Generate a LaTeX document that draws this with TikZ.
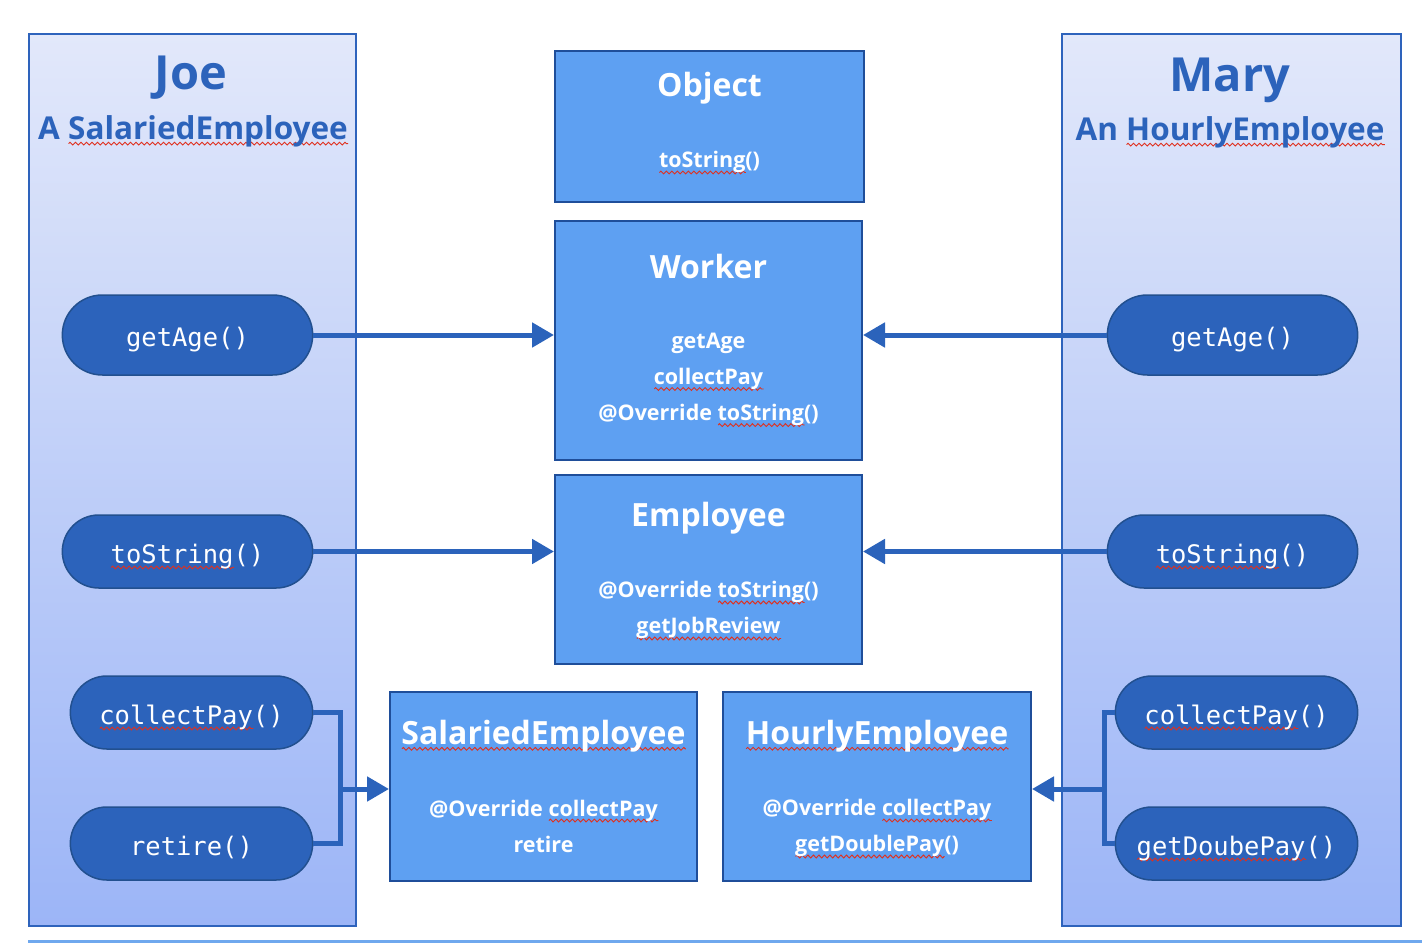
\documentclass[tikz,border=0pt]{standalone}
\usepackage{fontspec}
\setmainfont{Open Sans}
\setmonofont{DejaVu Sans Mono}
\usepackage{xcolor}
\usepackage{tikz}
\usetikzlibrary{arrows.meta,shapes.misc,decorations.pathmorphing}
\definecolor{colTop}{HTML}{E2E8FA}
\definecolor{colBot}{HTML}{9CB5F7}
\definecolor{colEdge}{HTML}{2E63BC}
\definecolor{nameBlue}{HTML}{2C63BB}
\definecolor{classFill}{HTML}{5EA0F2}
\definecolor{classEdge}{HTML}{1F4E9A}
\definecolor{pillFill}{HTML}{2C63BB}
\definecolor{pillEdge}{HTML}{22508F}
\definecolor{link}{HTML}{2B63BB}
\definecolor{rule}{HTML}{6FA8EE}
\definecolor{squig}{HTML}{E0301E}
% red spell-check wave under a word
\newsavebox{\spellbox}
\newcommand{\spell}[1]{\sbox\spellbox{#1}\rlap{\tikz[baseline=0pt]\draw[squig, line width=0.9pt, decorate, decoration={zigzag, segment length=5.5pt, amplitude=1.4pt}] (0pt,-4.5pt) -- (\the\wd\spellbox,-4.5pt);}\usebox\spellbox}
\tikzset{
  personCol/.style={draw=colEdge, line width=2pt, top color=colTop, bottom color=colBot, anchor=north west, inner sep=0pt},
  personName/.style={text=nameBlue, font=\fontsize{47}{52}\selectfont\bfseries},
  personKind/.style={text=nameBlue, font=\fontsize{31.5}{36}\selectfont\bfseries},
  classBox/.style={draw=classEdge, line width=2pt, fill=classFill, inner sep=0pt},
  classTitle/.style={text=white, font=\fontsize{32}{38}\selectfont\bfseries},
  classBody/.style={text=white, font=\fontsize{21.5}{36}\selectfont\bfseries, align=center},
  methodPill/.style={rounded rectangle, draw=pillEdge, line width=1.5pt, fill=pillFill, text=white, font=\fontsize{25.5}{28}\selectfont\ttfamily, text height=23pt, text depth=0pt, minimum height=73pt, minimum width=249pt},
  linkLine/.style={draw=link, line width=5pt},
  linkArrow/.style={linkLine, -{Triangle[length=22pt,width=24pt]}},
  ruleLine/.style={draw=rule, line width=3pt},
}
\begin{document}
\begin{tikzpicture}[x=1pt, y=-1pt]
  \path[fill=white] (0,0) rectangle (1422,944);
  \useasboundingbox (0,0) rectangle (1422,944);

  % the two objects
  \node[personCol, minimum width=327pt, minimum height=892pt] (joeCol) at (28,33) {};
  \node[personCol, minimum width=339pt, minimum height=892pt] (maryCol) at (1061,33) {};
  \node[personName] (joeName) at (191,78) {Joe};
  \node[personKind] (joeKind) at (193,131) {A \spell{SalariedEmployee}};
  \node[personName] (maryName) at (1230,80) {Mary};
  \node[personKind] (maryKind) at (1230,132) {An \spell{HourlyEmployee}};

  % class boxes
  \node[classBox, minimum width=309pt, minimum height=151pt] (object) at (709.5,126.5) {};
  \node[classTitle] (objectTitle) at (709.5,88) {Object};
  \node[classBody] (objectBody) at (709.5,163) {\spell{toString}()};

  \node[classBox, minimum width=307pt, minimum height=239pt] (worker) at (708.5,340.5) {};
  \node[classTitle] (workerTitle) at (708.5,266) {Worker};
  \node[classBody] (workerBody) at (708.5,380) {getAge\\ \spell{collectPay}\\ @Override \spell{toString}()};

  \node[classBox, minimum width=307pt, minimum height=189pt] (employee) at (708.5,569.5) {};
  \node[classTitle] (employeeTitle) at (708.5,518) {Employee};
  \node[classBody] (employeeBody) at (708.5,611) {@Override \spell{toString}()\\ \spell{getJobReview}};

  \node[classBox, minimum width=307pt, minimum height=189pt] (salaried) at (543.5,786.5) {};
  \node[classTitle] (salariedTitle) at (543.5,736) {\spell{SalariedEmployee}};
  \node[classBody] (salariedBody) at (543.5,826) {@Override \spell{collectPay}\\ retire};

  \node[classBox, minimum width=308pt, minimum height=189pt] (hourly) at (877,786.5) {};
  \node[classTitle] (hourlyTitle) at (877,736) {\spell{HourlyEmployee}};
  \node[classBody] (hourlyBody) at (877,829) {@Override \spell{collectPay}\\ \spell{getDoublePay}()};

  % method calls
  \node[methodPill, minimum width=257pt, minimum height=80pt] (joeAge) at (187.5,335) {getAge()};
  \node[methodPill, minimum width=257pt] (joeString) at (187.5,551.5) {\spell{toString}()};
  \node[methodPill] (joeCollect) at (191.5,712.5) {\spell{collectPay}()};
  \node[methodPill] (joeRetire) at (191.5,843.5) {retire()};

  \node[methodPill, minimum width=257pt, minimum height=80pt] (maryAge) at (1232.5,335) {getAge()};
  \node[methodPill, minimum width=257pt] (maryString) at (1232.5,551.5) {\spell{toString}()};
  \node[methodPill] (maryCollect) at (1236.5,712.5) {\spell{collectPay}()};
  \node[methodPill] (maryDouble) at (1236.5,843.5) {\spell{getDoubePay}()};

  % connectors
  \draw[linkArrow] (joeAge.east) -- (worker.west |- joeAge.east);
  \draw[linkArrow] (maryAge.west) -- (worker.east |- maryAge.west);
  \draw[linkArrow] (joeString.east) -- (employee.west |- joeString.east);
  \draw[linkArrow] (maryString.west) -- (employee.east |- maryString.west);

  \coordinate (joeJoin) at (340,789);
  \coordinate (maryJoin) at (1104,789);
  \draw[linkLine] (joeCollect.east) -| (joeJoin) |- (joeRetire.east);
  \draw[linkArrow] (joeJoin) -- (salaried.west |- joeJoin);
  \draw[linkLine] (maryCollect.west) -| (maryJoin) |- (maryDouble.west);
  \draw[linkArrow] (maryJoin) -- (hourly.east |- maryJoin);

  \draw[ruleLine] (28,941) -- (1422,941);
\end{tikzpicture}
\end{document}
